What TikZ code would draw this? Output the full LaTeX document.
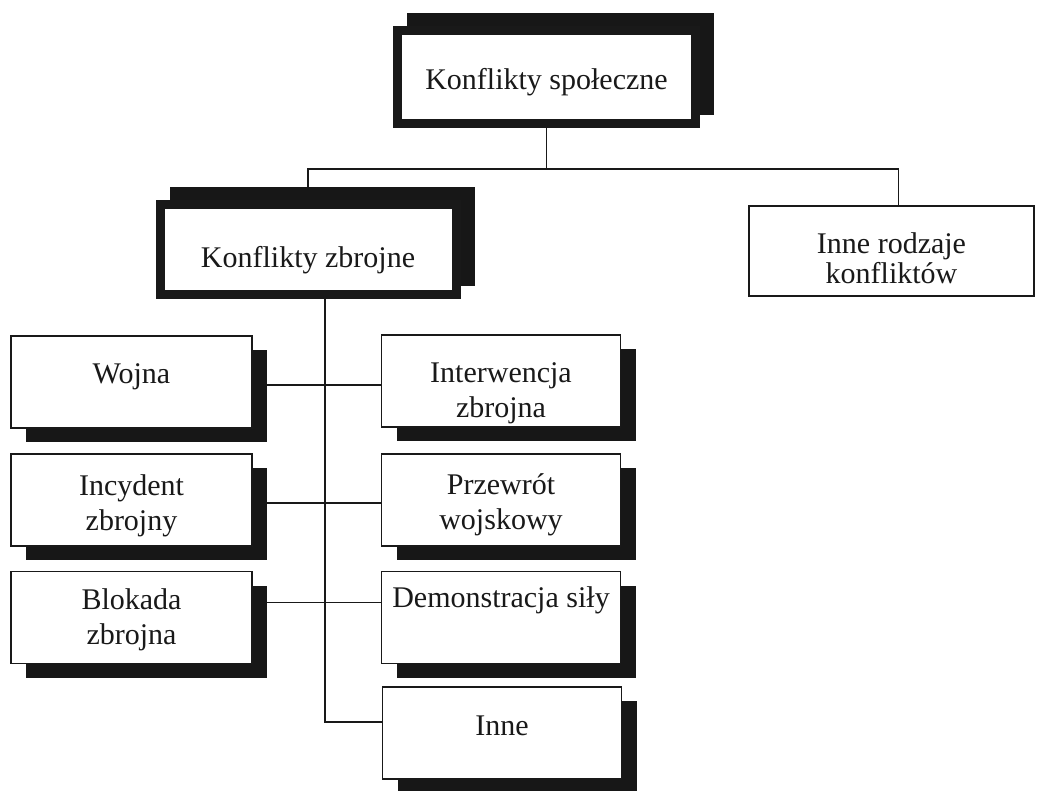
\documentclass[tikz,border=0pt]{standalone}
\usepackage{fontspec}
\setmainfont{Liberation Serif}
\usetikzlibrary{shadows,calc}
\pgfdeclarelayer{bg}
\pgfsetlayers{bg,main}
\definecolor{shade}{gray}{0.09}
\definecolor{ink}{gray}{0.1}
\tikzset{
  txt/.style={font=\fontsize{30}{35}\selectfont, align=center, text=ink},
  lbl/.style={txt, inner sep=0pt, yshift=#1},
  mainbox/.style={draw=ink, fill=white, line width=9pt, inner sep=2pt,
    general shadow={fill=shade, draw=shade, line width=9pt,
      shadow xshift=14pt, shadow yshift=13pt}},
  plainbox/.style={draw=ink, fill=white, line width=1.5pt, inner sep=2pt},
  leafbox/.style={plainbox, minimum height=92pt,
    general shadow={fill=shade, shadow xshift=15pt, shadow yshift=-14pt}},
  leftleaf/.style={leafbox, minimum width=241pt},
  rightleaf/.style={leafbox, minimum width=239pt},
  conn/.style={draw=ink, line width=1.5pt},
}
\begin{document}
\begin{tikzpicture}[x=1pt, y=-1pt]
\useasboundingbox (0,0) rectangle (1037,791);

% top level
\node[mainbox, minimum width=298pt, minimum height=93pt,
  label={[lbl=-5pt]center:Konflikty społeczne}] (top) at (546.5,77) {};

% second level
\node[mainbox, minimum width=296pt, minimum height=90pt,
  label={[lbl=-10pt]center:Konflikty zbrojne}] (kz) at (308,250) {};
\node[plainbox, minimum width=285pt, minimum height=90pt,
  label={[lbl=-7pt, font=\fontsize{30}{30}\selectfont]center:Inne rodzaje\\konfliktów}]
  (ir) at (891.5,251) {};

% kinds of armed conflict, left column
\node[leftleaf, label={[lbl=5pt]center:Wojna}] (wojna) at (131.5,382) {};
\node[leftleaf, label={[lbl=-6pt]center:Incydent\\zbrojny}] (incyd) at (131.5,500) {};
\node[leftleaf, label={[lbl=-2pt]center:Blokada\\zbrojna}] (blok) at (131.5,617.5) {};

% kinds of armed conflict, right column
\node[rightleaf, label={[lbl=-12pt]center:Interwencja\\zbrojna}] (interw) at (501,381) {};
\node[rightleaf, label={[lbl=-5pt]center:Przewrót\\wojskowy}] (przew) at (501,500) {};
\node[rightleaf, label={[lbl=17pt]center:Demonstracja siły}] (demo) at (501,617.5) {};
\node[rightleaf, label={[lbl=7pt]center:Inne}] (inne) at (502,733) {};

% connectors, kept behind the boxes and their shadows
\coordinate (bus) at (545,169);
\coordinate (trunk) at (325,0);
\begin{pgfonlayer}{bg}
  \draw[conn] (top.south) -- (top.south |- bus);
  \draw[conn] (kz.north) -- (kz.north |- bus) -- ([xshift=7pt]ir.north |- bus)
    -- ([xshift=7pt]ir.north);
  \draw[conn] (kz.south -| trunk) |- ([yshift=11pt]inne.west);
  \draw[conn] ([yshift=-3pt]wojna.east) -- ([yshift=-3pt]wojna.east -| interw.west);
  \draw[conn] ([yshift=-3pt]incyd.east) -- ([yshift=-3pt]incyd.east -| przew.west);
  \draw[conn] ([yshift=15pt]blok.east) -- ([yshift=15pt]blok.east -| demo.west);
\end{pgfonlayer}
\end{tikzpicture}
\end{document}
